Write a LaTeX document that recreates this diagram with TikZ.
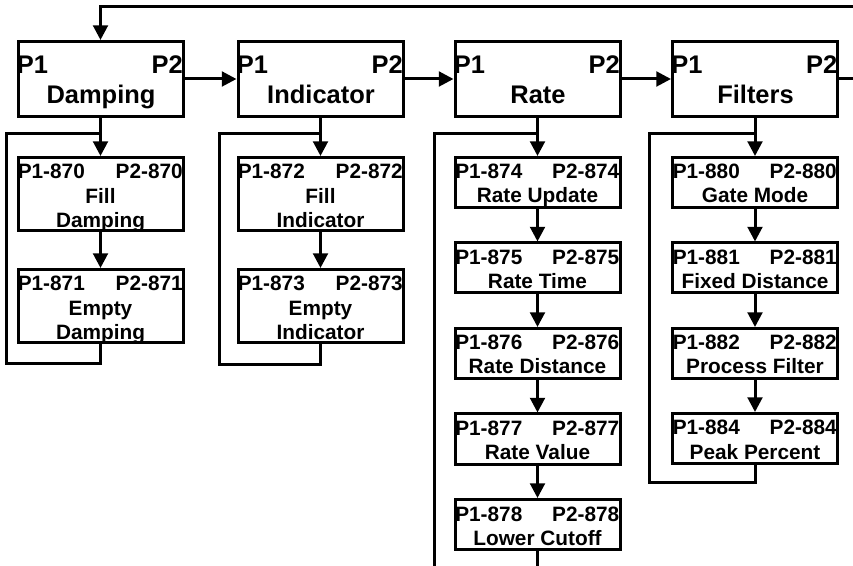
\documentclass[tikz,border=0pt]{standalone}
\usepackage{fontspec}
\setmainfont{Liberation Sans}
\usetikzlibrary{arrows.meta,calc}
\tikzset{
  ln/.style={line width=2.25pt},
  arr/.style={ln, -{Triangle[length=11pt,width=11pt]}},
  mainbox/.style={draw, line width=2.25pt, fill=white, inner sep=0pt,
    minimum width=123.75pt, minimum height=56.25pt},
  subthree/.style={draw, line width=2.25pt, fill=white, inner sep=0pt,
    minimum width=123.75pt, minimum height=54.75pt},
  subtwo/.style={draw, line width=2.25pt, fill=white, inner sep=0pt,
    minimum width=123.75pt, minimum height=37.5pt},
  maintxt/.style={inner sep=0pt, font=\fontsize{19.1pt}{22pt}\selectfont\bfseries},
  subtxt/.style={inner sep=0pt, font=\fontsize{15.6pt}{18pt}\selectfont\bfseries}
}
\newcommand\MainBox[3]{%
  \node[mainbox] (#1) at (#2,79) {};
  \node[maintxt, anchor=base west] (#1-p) at ($(#1.west)+(0,-5)$) {P1};
  \node[maintxt, anchor=base east] (#1-q) at ($(#1.east)+(-1.5,-5)$) {P2};
  \node[maintxt, anchor=base] (#1-t) at ($(#1.center)+(0.5,25)$) {#3};
}
\newcommand\SubThree[6]{%
  \node[subthree] (#1) at (#2,#3) {};
  \node[subtxt, anchor=base west] (#1-p) at ($(#1.west)+(1,-15.5)$) {P1-#4};
  \node[subtxt, anchor=base east] (#1-q) at ($(#1.east)+(-1.5,-15.5)$) {P2-#4};
  \node[subtxt, anchor=base] (#1-t) at ($(#1.center)+(0,9.5)$) {#5};
  \node[subtxt, anchor=base] (#1-u) at ($(#1.center)+(0,33.5)$) {#6};
}
\newcommand\SubTwo[5]{%
  \node[subtwo] (#1) at (#2,#3) {};
  \node[subtxt, anchor=base west] (#1-p) at ($(#1.west)+(1.5,-3.5)$) {P1-#4};
  \node[subtxt, anchor=base east] (#1-q) at ($(#1.east)+(-2,-3.5)$) {P2-#4};
  \node[subtxt, anchor=base] (#1-t) at ($(#1.center)+(0,20.5)$) {#5};
}
\begin{document}
\begin{tikzpicture}[x=0.75pt,y=-0.75pt]
\path[use as bounding box, clip] (0,0) rectangle (853,566);
\fill[white] (0,0) rectangle (853,566);

% main boxes
\MainBox{dmp}{100.5}{Damping}
\MainBox{ind}{320.5}{Indicator}
\MainBox{rat}{537.5}{Rate}
\MainBox{fil}{755}{Filters}

% damping column
\SubThree{fd}{100.5}{194}{870}{Fill}{Damping}
\SubThree{ed}{100.5}{306}{871}{Empty}{Damping}
% indicator column
\SubThree{fi}{320.5}{194}{872}{Fill}{Indicator}
\SubThree{ei}{320.5}{306}{873}{Empty}{Indicator}
% rate column
\SubTwo{ru}{537.5}{182.5}{874}{Rate Update}
\SubTwo{rt}{537.5}{268}{875}{Rate Time}
\SubTwo{rd}{537.5}{353.5}{876}{Rate Distance}
\SubTwo{rv}{537.5}{439}{877}{Rate Value}
\SubTwo{lc}{537.5}{524.5}{878}{Lower Cutoff}
% filters column
\SubTwo{gm}{755}{182.5}{880}{Gate Mode}
\SubTwo{fx}{755}{268}{881}{Fixed Distance}
\SubTwo{pf}{755}{353.5}{882}{Process Filter}
\SubTwo{pp}{755}{438.5}{884}{Peak Percent}

% coordinates
\coordinate (jy) at (0,134);
\coordinate (dj) at (dmp.south |- jy);
\coordinate (ij) at (ind.south |- jy);
\coordinate (rj) at (rat.south |- jy);
\coordinate (fj) at (fil.south |- jy);
\coordinate (dl) at (6,364);
\coordinate (il) at (219,365);
\coordinate (rl) at (434,620);
\coordinate (fl) at (649,482);
\coordinate (fbR) at (890,7);

% main chain
\draw[arr] (dmp.east) -- (ind.west);
\draw[arr] (ind.east) -- (rat.west);
\draw[arr] (rat.east) -- (fil.west);
\draw[arr] (fil.east) -| (fbR) -| (dmp.north);

% columns
\draw[arr] (dmp.south) -- (fd.north);
\draw[arr] (fd.south) -- (ed.north);
\draw[ln] (ed.south) |- (dl) |- (dj);

\draw[arr] (ind.south) -- (fi.north);
\draw[arr] (fi.south) -- (ei.north);
\draw[ln] (ei.south) |- (il) |- (ij);

\draw[arr] (rat.south) -- (ru.north);
\draw[arr] (ru.south) -- (rt.north);
\draw[arr] (rt.south) -- (rd.north);
\draw[arr] (rd.south) -- (rv.north);
\draw[arr] (rv.south) -- (lc.north);
\draw[ln] (lc.south) |- (rl) |- (rj);

\draw[arr] (fil.south) -- (gm.north);
\draw[arr] (gm.south) -- (fx.north);
\draw[arr] (fx.south) -- (pf.north);
\draw[arr] (pf.south) -- (pp.north);
\draw[ln] (pp.south) |- (fl) |- (fj);
\end{tikzpicture}
\end{document}
